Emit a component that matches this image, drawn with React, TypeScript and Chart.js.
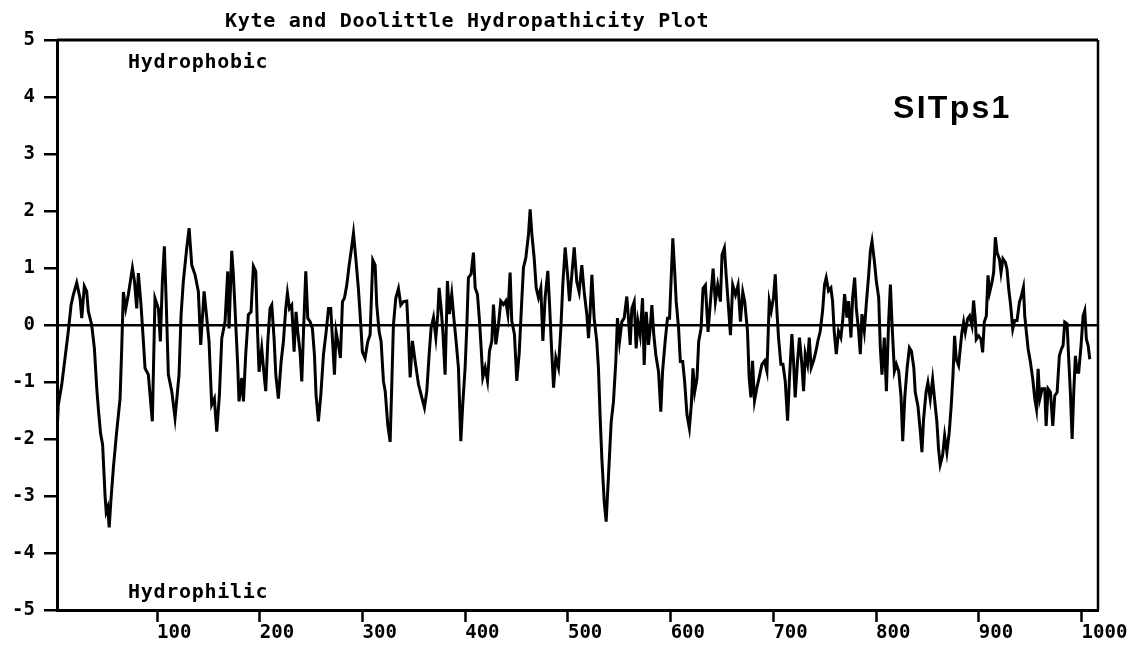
import React, { useEffect, useRef } from "react";
import { Chart, registerables } from "chart.js";

Chart.register(...registerables);

const chartTitle = "Kyte and Doolittle Hydropathicity Plot";
const topLabel = "Hydrophobic";
const bottomLabel = "Hydrophilic";
const proteinName = "SITps1";

const xTicks = [100, 200, 300, 400, 500, 600, 700, 800, 900, 1000];
const xTickLabels = ["100", "200", "300", "400", "500", "600", "700", "800", "900", "1000"];
const yTicks = [-5, -4, -3, -2, -1, 0, 1, 2, 3, 4, 5];
const yTickLabels = ["-5", "-4", "-3", "-2", "-1", "0", "1", "2", "3", "4", "5"];

const residues = [
  3.0, 3.9, 7.2, 10.4, 13.6, 16.3, 18.5, 21.8, 25.0, 26.7, 29.2, 31.5, 33.1, 36.4, 39.0, 41.3,
  43.0, 45.0, 47.0, 49.4, 50.5, 52.0, 53.4, 55.0, 57.5, 60.7, 64.0, 65.6, 67.2, 69.5, 72.0, 76.0,
  78.0, 80.2, 81.8, 84.4, 86.7, 88.3, 91.5, 95.4, 98.0, 101.3, 103.2, 105.2, 107.1, 108.8, 111.0,
  114.3, 117.5, 121.4, 123.4, 125.6, 128.9, 131.2, 133.8, 137.0, 140.2, 142.5, 145.8, 148.4, 150.6,
  153.2, 155.8, 158.1, 160.7, 163.0, 166.2,
  168.8, 170.1, 172.7, 174.3, 175.9, 178.5, 179.8, 182.5, 184.1, 186.3, 188.9, 191.5, 193.8, 196.1,
  197.7, 199.3, 201.9, 204.2, 205.8, 207.8, 210.0, 211.7, 213.9, 215.6, 218.1, 220.8, 223.0, 225.3,
  226.9, 228.9, 231.1, 233.4, 235.3, 237.0, 239.2, 240.9, 242.8, 244.8, 246.7, 249.0, 251.2, 253.2,
  254.8, 257.1, 259.4, 262.0, 264.6, 266.9, 269.1, 270.7, 272.7, 274.3, 276.6, 278.5, 280.5, 282.4,
  284.7, 287.0, 288.9, 291.2, 293.5, 296.0, 297.7, 299.9, 302.5, 305.1, 307.4, 310.0, 312.3, 313.9,
  316.2, 318.1, 320.4, 322.1, 324.6, 326.9, 328.5, 330.1, 332.4, 335.0, 337.3, 339.9,
  343.1, 344.7, 346.4, 348.6, 351.2, 354.5, 357.7, 360.3, 362.6, 364.9, 366.8, 369.1, 371.4, 373.3,
  374.6, 376.5, 378.2, 380.4, 382.7, 384.6, 386.9, 389.2, 391.1, 393.4, 395.7, 397.6, 399.9, 401.5,
  403.1, 405.7, 408.0, 409.7, 411.9, 413.9, 415.5, 417.1, 419.4, 421.7, 423.6, 425.9, 427.5, 429.8,
  432.4, 434.6, 437.2, 439.5, 441.5, 443.7, 445.3, 447.9, 450.2, 452.5, 454.4, 456.7, 459.0, 461.6,
  463.2, 464.9, 467.1, 469.1, 471.3, 473.6, 475.6, 477.8, 480.4, 482.1, 483.7, 486.0, 488.2, 490.8,
  493.1, 495.0, 497.3, 499.6, 501.5, 503.8, 506.1,
  508.6, 510.9, 513.5, 515.8, 518.4, 520.0, 521.6, 523.3, 525.5, 528.1, 529.7, 531.4, 533.0, 535.3,
  537.2, 539.5, 542.1, 544.3, 546.6, 548.2, 550.2, 552.5, 554.7, 557.3, 558.9, 560.6, 562.2, 564.5,
  566.4, 568.1, 570.3, 572.6, 574.2, 576.2, 578.4, 580.1, 581.7, 583.6, 585.6, 588.2, 590.4, 592.1,
  594.6, 596.9, 598.9, 600.5, 602.1, 603.9, 605.4, 607.7, 609.4, 611.7, 613.6, 615.9, 618.2, 620.1,
  621.7, 623.4, 625.6, 627.3, 629.6, 631.5, 633.8, 636.4, 638.7, 641.3, 643.5, 645.8, 648.4, 650.0,
  652.3, 654.0, 655.9, 658.2, 660.4, 663.1, 665.6, 667.9, 670.2, 672.1,
  674.8, 676.4, 678.1, 679.7, 681.6, 683.9, 686.2, 688.8, 691.4, 693.7, 696.0, 697.9, 700.1, 701.8,
  703.4, 705.0, 707.3, 709.3, 711.5, 713.8, 715.7, 718.0, 719.6, 721.2, 723.5, 725.4, 727.7, 729.4,
  731.0, 733.2, 734.9, 736.8, 739.1, 741.4, 743.3, 745.6, 747.9, 749.8, 751.4, 753.7, 756.0, 757.6,
  759.2, 761.2, 763.4, 765.7, 767.7, 769.3, 771.6, 773.2, 775.5, 777.1, 779.1, 780.7, 783.0, 784.6,
  786.2, 788.5, 790.4, 792.8, 794.4, 796.0, 798.3, 800.2, 802.5, 804.1, 805.7, 808.0, 810.0, 812.2,
  813.9, 815.5, 817.8, 819.7, 822.0, 824.3, 825.9, 827.9, 830.2, 832.4, 834.4, 836.7,
  838.1, 840.7, 843.1, 844.6, 846.2, 848.6, 850.4, 852.7, 855.0, 856.9, 859.2, 860.8, 862.4, 864.7,
  866.7, 868.9, 871.2, 873.1, 874.8, 876.4, 878.0, 880.3, 881.9, 883.5, 885.2, 886.8, 889.1, 891.0,
  893.3, 894.9, 896.5, 897.5, 899.8, 902.1, 903.7, 905.3, 907.3, 908.9, 910.5, 912.8, 914.4, 916.1,
  917.7, 920.0, 921.6, 923.5, 925.8, 927.4, 929.1, 931.0, 933.0, 934.9, 937.2, 939.5, 941.4, 943.4,
  944.7, 946.3, 948.0, 950.2, 952.5, 954.5, 956.1, 957.7, 959.3, 961.6, 964.2, 965.5, 967.4, 969.7,
  972.0, 973.9, 976.2, 978.4, 980.4, 982.0, 983.6, 985.9, 987.5, 989.1, 990.8, 992.4, 994.0, 995.6,
  997.2, 999.5, 1001.5, 1003.1, 1004.7, 1006.4, 1008.0,
];

const scores = [
  -1.75, -1.40, -1.05, -0.58, -0.11, 0.35, 0.53, 0.74, 0.47, 0.12, 0.68, 0.59, 0.24, 0.0, -0.41, -1.11,
  -1.5, -1.9, -2.1, -3.0, -3.28, -3.2, -3.55, -3.1, -2.5, -1.87, -1.29, -0.41, 0.58, 0.29, 0.53, 1.0,
  0.77, 0.29, 0.91, 0.35, -0.29, -0.76, -0.87, -1.69, 0.47, 0.29, -0.29, 0.77, 1.38, 0.47, -0.87,
  -1.16, -1.63, -0.87, 0.18, 0.77, 1.35, 1.70, 1.05, 0.88, 0.59, -0.35, 0.59, 0.12, -0.29,
  -1.40, -1.29, -1.87, -1.23, -0.23, 0.06,
  0.94, -0.06, 1.30, 0.88, 0.29, -0.70, -1.34, -0.93, -1.34, -0.52, 0.18, 0.23, 1.03, 0.94,
  -0.06, -0.82, -0.41, -0.87, -1.16, -0.29, 0.29, 0.35, -0.23, -0.87, -1.29, -0.64, -0.29, 0.29,
  0.56, 0.29, 0.35, -0.47, 0.23, -0.12, -0.47, -0.99, 0.0, 0.94, 0.12, 0.06, -0.06, -0.52,
  -1.23, -1.69, -1.23, -0.52, -0.12, 0.29, 0.29, -0.23, -0.87, -0.12, -0.35, -0.58, 0.41, 0.47,
  0.70, 1.05, 1.29, 1.61, 1.17, 0.64, 0.18, -0.47, -0.58, -0.29, -0.17, 1.14, 1.05, 0.35,
  -0.12, -0.29, -0.99, -1.16, -1.75, -2.05, -1.05, 0.0, 0.47, 0.64, 0.35, 0.41,
  0.42, -0.16, -0.92, -0.28, -0.63, -1.04, -1.27, -1.45, -1.16, -0.51, -0.05, 0.13, -0.22, 0.19,
  0.65, 0.30, -0.11, -0.87, 0.77, 0.19, 0.54, 0.07, -0.28, -0.75, -2.04, -1.39, -0.75, -0.05,
  0.83, 0.89, 1.27, 0.65, 0.54, 0.07, -0.40, -0.92, -0.75, -0.98, -0.46, -0.28, 0.36, -0.34,
  0.01, 0.42, 0.36, 0.42, 0.19, 0.92, 0.07, -0.16, -0.98, -0.51, 0.19, 1.01, 1.18, 1.59,
  2.03, 1.59, 1.18, 0.65, 0.48, 0.65, -0.28, 0.48, 0.95, 0.36, -0.28, -1.10, -0.57, -0.75,
  -0.05, 0.71, 1.36, 0.89, 0.42, 0.89, 1.36,
  0.76, 0.58, 1.05, 0.58, 0.18, -0.23, 0.23, 0.88, 0.12, -0.29, -0.76, -1.64, -2.34, -3.10,
  -3.45, -2.63, -1.70, -1.35, -0.64, 0.12, -0.29, 0.06, 0.12, 0.50, 0.12, -0.35, 0.29, 0.41,
  -0.41, 0.06, -0.18, 0.47, -0.70, 0.23, -0.35, -0.06, 0.35, -0.18, -0.53, -0.82, -1.52, -0.82,
  -0.29, 0.12, 0.12, 0.82, 1.52, 0.94, 0.41, -0.06, -0.64, -0.64, -0.99, -1.58, -1.81, -1.40,
  -0.76, -1.17, -0.94, -0.29, -0.06, 0.64, 0.70, -0.12, 0.41, 0.99, 0.41, 0.70, 0.41, 1.23,
  1.35, 0.88, 0.41, -0.18, 0.70, 0.53, 0.70, 0.06, 0.58, 0.41,
  -0.11, -0.92, -1.27, -0.63, -1.33, -1.10, -0.92, -0.69, -0.63, -0.81, 0.42, 0.25, 0.48, 0.89,
  0.25, -0.22, -0.69, -0.69, -0.98, -1.68, -0.92, -0.16, -0.63, -1.27, -0.63, -0.22, -0.69, -1.16,
  -0.51, -0.69, -0.22, -0.75, -0.63, -0.46, -0.28, -0.11, 0.25, 0.71, 0.83, 0.60, 0.65, 0.42,
  -0.11, -0.51, -0.11, -0.22, 0.13, 0.54, 0.13, 0.42, -0.22, 0.48, 0.83, 0.30, -0.11, -0.51,
  0.19, -0.11, 0.36, 0.89, 1.30, 1.47, 1.12, 0.77, 0.48, -0.40, -0.87, -0.22, -1.16, 0.07,
  0.71, 0.01, -0.81, -0.69, -0.81, -1.27, -2.04, -1.27, -0.75, -0.40, -0.46, -0.75,
  -1.18, -1.42, -1.88, -2.23, -1.65, -1.18, -1.01, -1.30, -0.95, -1.30, -1.71, -2.18, -2.45, -2.29,
  -1.94, -2.23, -1.88, -1.42, -0.89, -0.19, -0.60, -0.71, -0.42, -0.13, 0.05, -0.13, 0.11, 0.16,
  -0.01, 0.43, 0.11, -0.25, -0.19, -0.25, -0.48, 0.05, 0.16, 0.87, 0.57, 0.75, 0.92, 1.54,
  1.27, 1.16, 0.92, 1.16, 1.10, 0.98, 0.63, 0.34, -0.07, 0.08, 0.08, 0.40, 0.51, 0.66,
  0.16, -0.13, -0.42, -0.65, -0.95, -1.30, -1.47, -0.77, -1.30, -1.12, -1.12, -1.77, -1.12, -1.18,
  -1.77, -1.24, -1.18, -0.54, -0.42, -0.36, 0.05, 0.02, -0.60, -1.18, -2.0, -1.18, -0.54, -0.83,
  -0.83, -0.36, 0.16, 0.25, -0.25, -0.36, -0.60,
];

const MONO = "'DejaVu Sans Mono', monospace";

export default function App() {
  const canvasRef = useRef<HTMLCanvasElement>(null);

  useEffect(() => {
    document.body.style.margin = "0";
    const canvas = canvasRef.current;
    if (!canvas) return;

    const annotations = {
      id: "annotations",
      afterDraw(chart: any) {
        const { ctx, chartArea: a } = chart;
        ctx.save();
        ctx.strokeStyle = "#000";
        ctx.lineWidth = 3;
        ctx.beginPath();
        ctx.moveTo(a.left, a.top);
        ctx.lineTo(a.right, a.top);
        ctx.stroke();
        ctx.lineWidth = 2.5;
        ctx.beginPath();
        ctx.moveTo(a.right, a.top);
        ctx.lineTo(a.right, a.bottom);
        ctx.stroke();

        ctx.fillStyle = "#000";
        ctx.textAlign = "left";
        ctx.textBaseline = "middle";
        ctx.font = `bold 20px ${MONO}`;
        (ctx as any).letterSpacing = "0.7px";
        ctx.fillText(chartTitle, 225, 22);
        ctx.fillText(topLabel, a.left + 71, a.top + 23);
        ctx.fillText(bottomLabel, a.left + 71, a.bottom - 17);

        ctx.font = "bold 32px 'Liberation Sans', Arial, sans-serif";
        (ctx as any).letterSpacing = "2.3px";
        ctx.textBaseline = "alphabetic";
        ctx.fillText(proteinName, a.left + 836, a.top + 78);
        ctx.restore();
      },
    };

    const tickFont = { family: MONO, size: 19, weight: "bold" as const };

    const chart = new Chart(canvas, {
      type: "line",
      data: {
        datasets: [
          {
            data: residues.map((r, i) => ({ x: r, y: scores[i] })),
            borderColor: "#000",
            borderWidth: 3,
            pointRadius: 0,
            tension: 0,
            fill: false,
          },
        ],
      },
      options: {
        responsive: false,
        animation: false,
        devicePixelRatio: 1,
        layout: { padding: { top: 40, right: 40, left: 0, bottom: 0 } },
        plugins: {
          legend: { display: false },
          tooltip: { enabled: false },
          title: { display: false },
        },
        scales: {
          x: {
            type: "linear",
            min: 2.6,
            max: 1016,
            afterBuildTicks: (s: any) => {
              s.ticks = xTicks.map((v) => ({ value: v }));
            },
            afterFit: (s: any) => {
              s.height = 40;
            },
            ticks: {
              autoSkip: false,
              maxRotation: 0,
              minRotation: 0,
              align: "start",
              padding: 0,
              color: "#000",
              font: tickFont,
              callback: (v: any) => xTickLabels[xTicks.indexOf(Number(v))],
            },
            grid: {
              drawOnChartArea: false,
              drawTicks: true,
              tickLength: 12,
              tickColor: "#000",
              tickWidth: 2.5,
            },
            border: { display: true, color: "#000", width: 3 },
          },
          y: {
            type: "linear",
            min: -5,
            max: 5,
            afterBuildTicks: (s: any) => {
              s.ticks = yTicks.map((v) => ({ value: v }));
            },
            afterFit: (s: any) => {
              s.width = 57;
            },
            ticks: {
              autoSkip: false,
              padding: 9,
              color: "#000",
              font: tickFont,
              callback: (v: any) => yTickLabels[yTicks.indexOf(Number(v))],
            },
            grid: {
              color: (c: any) => (c.tick && c.tick.value === 0 ? "#000" : "rgba(0,0,0,0)"),
              lineWidth: 2.5,
              drawTicks: true,
              tickLength: 13,
              tickColor: "#000",
              tickWidth: 2.5,
            },
            border: { display: true, color: "#000", width: 3 },
          },
        },
      },
      plugins: [annotations],
    });

    return () => chart.destroy();
  }, []);

  return (
    <div style={{ width: 1138, height: 650, background: "#fff" }}>
      <canvas ref={canvasRef} width={1138} height={650} />
    </div>
  );
}
